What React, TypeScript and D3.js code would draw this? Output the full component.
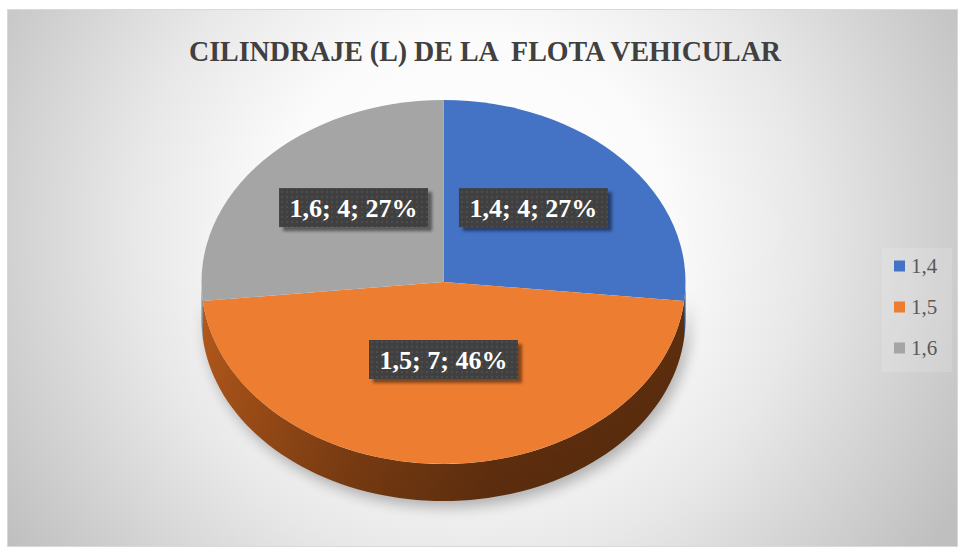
import React from "react";
import * as d3 from "d3";

const categories = ["1,4", "1,5", "1,6"];
const values = [4, 7, 4];
const percentLabels = ["27%", "46%", "27%"];
const topColors = ["#4472C4", "#ED7D31", "#A5A5A5"];
const sideDark = ["#2c4f8e", "#6a3410", "#6e6e6e"];
const sideLight = ["#3d64ad", "#b5591b", "#8c8c8c"];
const titleText = "CILINDRAJE (L) DE LA  FLOTA VEHICULAR";

const W = 958;
const H = 548;
const cx = 443.5;
const cy = 282;
const rx = 242;
const ry = 182;
const depth = 37;
const SERIF =
  '"Liberation Serif", "Times New Roman", Times, "Nimbus Roman", "Noto Serif", FreeSerif, "DejaVu Serif", serif';

function rimPoint(t: number, dy = 0): [number, number] {
  return [cx + rx * Math.sin(t), cy - ry * Math.cos(t) + dy];
}

function sidePath(a0: number, a1: number): string | null {
  const s = Math.max(a0, Math.PI / 2);
  const e = Math.min(a1, (3 * Math.PI) / 2);
  if (s >= e) return null;
  const n = 80;
  const angles = d3.range(n + 1).map((i) => s + ((e - s) * i) / n);
  const top = angles.map((t) => rimPoint(t));
  const bottom = angles.slice().reverse().map((t) => rimPoint(t, depth));
  return (d3.line()([...top, ...bottom]) as string) + "Z";
}

export default function App() {
  const pie = d3.pie<number>().sort(null).startAngle(0).endAngle(2 * Math.PI);
  const arcs = pie(values);
  const arcGen = d3.arc<d3.PieArcDatum<number>>().innerRadius(0).outerRadius(rx);
  const fullShadow = sidePath(Math.PI / 2, (3 * Math.PI) / 2);

  const legendY = d3.scalePoint<string>().domain(categories).range([266, 348]);

  return (
    <svg
      width={W}
      height={H}
      style={{ position: "absolute", left: 0, top: 0, display: "block" }}
      xmlns="http://www.w3.org/2000/svg"
    >
      <defs>
        <radialGradient id="bg" gradientUnits="userSpaceOnUse" cx={470} cy={230} r={560}>
          <stop offset="0" stopColor="#ffffff" />
          <stop offset="0.35" stopColor="#fbfbfb" />
          <stop offset="0.6" stopColor="#e8e8e8" />
          <stop offset="1" stopColor="#bfbfbf" />
        </radialGradient>
        {arcs.map((a, i) => (
          <linearGradient
            key={i}
            id={`side${i}`}
            gradientUnits="userSpaceOnUse"
            x1={cx - rx}
            y1={0}
            x2={cx + rx}
            y2={0}
          >
            <stop offset="0" stopColor={sideLight[i]} />
            <stop offset="0.3" stopColor={d3.interpolateRgb(sideLight[i], sideDark[i])(0.6)} />
            <stop offset="0.6" stopColor={sideDark[i]} />
            <stop offset="1" stopColor={d3.color(sideDark[i])!.darker(0.3).formatHex()} />
          </linearGradient>
        ))}
        <linearGradient id="sideShade" x1="0" y1="0" x2="0" y2="1">
          <stop offset="0" stopColor="#000" stopOpacity={0} />
          <stop offset="1" stopColor="#000" stopOpacity={0.15} />
        </linearGradient>
        <filter id="pieShadow" x="-20%" y="-20%" width="140%" height="140%">
          <feGaussianBlur stdDeviation="7" />
        </filter>
        <filter id="boxShadow" x="-20%" y="-30%" width="140%" height="170%">
          <feDropShadow dx="4" dy="4" stdDeviation="1.8" floodColor="#000" floodOpacity="0.45" />
        </filter>
        <pattern id="dots" width="5" height="5" patternUnits="userSpaceOnUse">
          <rect width="5" height="5" fill="#404040" />
          <rect x="1" y="1" width="2" height="2" fill="#4d4d4d" />
        </pattern>
      </defs>

      <rect x={7.5} y={9.5} width={950} height={537} fill="url(#bg)" stroke="#d9d9d9" strokeWidth={1} />

      {fullShadow && (
        <path d={fullShadow} transform="translate(4,6)" fill="#000" opacity={0.28} filter="url(#pieShadow)" />
      )}

      {arcs.map((a, i) => {
        const d = sidePath(a.startAngle, a.endAngle);
        return d ? (
          <g key={i}>
            <path d={d} fill={`url(#side${i})`} />
            <path d={d} fill="url(#sideShade)" />
          </g>
        ) : null;
      })}

      <g transform={`translate(${cx},${cy}) scale(1,${ry / rx})`}>
        {arcs.map((a, i) => (
          <path key={i} d={arcGen(a) as string} fill={topColors[i]} />
        ))}
      </g>

      {arcs.map((a, i) => {
        const mid = (a.startAngle + a.endAngle) / 2;
        const lx = cx + rx * 0.5 * Math.sin(mid);
        const ly = cy - ry * 0.5 * Math.cos(mid) - 13.5;
        const bw = 149;
        const bh = 39;
        return (
          <g key={i}>
            <rect x={lx - bw / 2} y={ly - bh / 2} width={bw} height={bh} fill="url(#dots)" filter="url(#boxShadow)" />
            <text
              x={lx}
              y={ly + 9}
              textAnchor="middle"
              textLength={128}
              lengthAdjust="spacingAndGlyphs"
              style={{ fontFamily: SERIF, fontWeight: "bold", fontSize: "26px" }}
              fill="#ffffff"
            >
              {`${categories[i]}; ${values[i]}; ${percentLabels[i]}`}
            </text>
          </g>
        );
      })}

      <text
        x={485}
        y={61}
        textAnchor="middle"
        textLength={592}
        lengthAdjust="spacingAndGlyphs"
        style={{ fontFamily: SERIF, fontWeight: "bold", fontSize: "30px", whiteSpace: "pre" }}
        fill="#404040"
      >
        {titleText}
      </text>

      <rect x={882} y={248} width={70} height={124} fill="#ffffff" opacity={0.14} />
      {categories.map((c, i) => {
        const y = legendY(c)!;
        return (
          <g key={c}>
            <rect x={894} y={y - 5.5} width={11} height={11} fill={topColors[i]} />
            <text x={911} y={y + 7} style={{ fontFamily: SERIF, fontSize: "21px" }} fill="#595959">
              {c}
            </text>
          </g>
        );
      })}
    </svg>
  );
}
